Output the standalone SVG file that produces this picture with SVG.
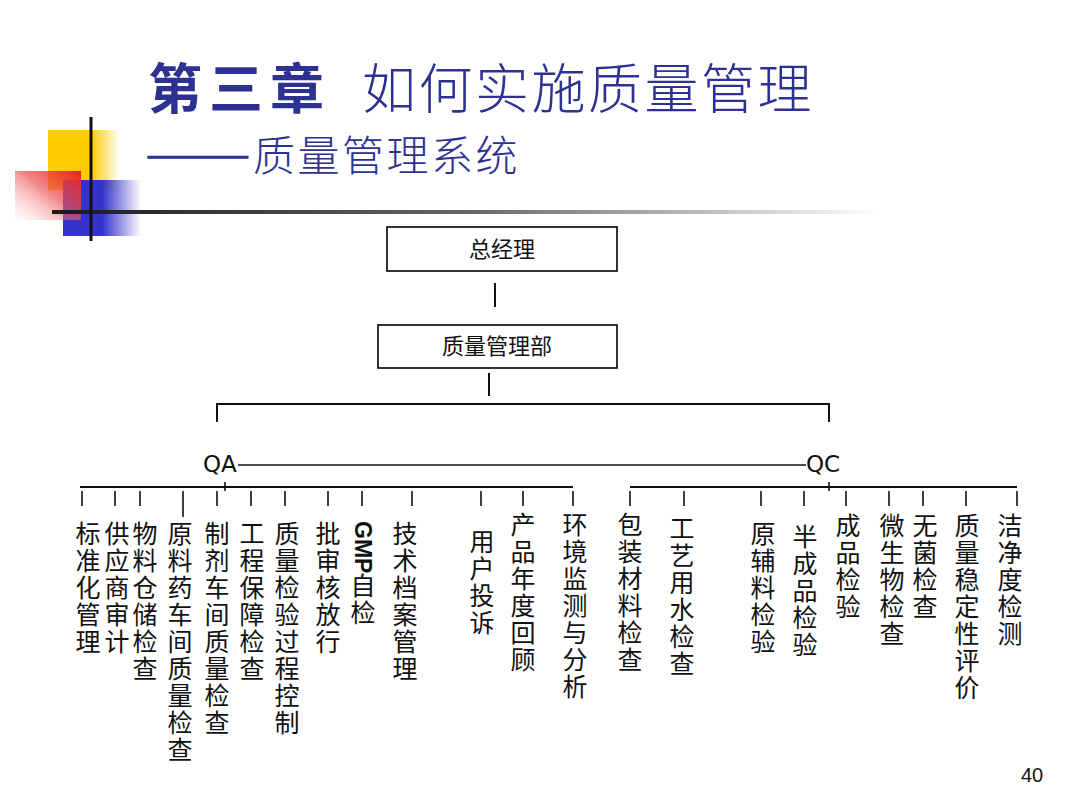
<svg xmlns="http://www.w3.org/2000/svg" width="1080" height="810" viewBox="0 0 1080 810">
<style>
.title{font-family:"Noto Sans CJK SC","Noto Sans",sans-serif;fill:#2D3192}
.box{fill:#fff;stroke:#000;stroke-width:1.6}
.boxt{font-family:"Noto Sans CJK SC",sans-serif;font-size:22px;fill:#111;text-anchor:middle}
.ln{stroke:#111;stroke-width:2;fill:none}
.tk{stroke:#111;stroke-width:1.6;fill:none}
.qt{font-family:"DejaVu Sans","Noto Sans",sans-serif;font-size:23px;fill:#111}
.leaf{font-family:"Noto Sans CJK SC",sans-serif;font-size:25px;fill:#111;writing-mode:vertical-rl;letter-spacing:2px}
.pg{font-family:"Liberation Sans",Arial,sans-serif;font-size:20px;fill:#111}
</style>
<defs>
<linearGradient id="gY" x1="0" y1="0" x2="1" y2="0"><stop offset="0" stop-color="#FFCC00"/><stop offset="0.6" stop-color="#FFCC00"/><stop offset="1" stop-color="#FFCC00" stop-opacity="0"/></linearGradient>
<linearGradient id="gB" x1="0" y1="0" x2="1" y2="0"><stop offset="0" stop-color="#3333CC"/><stop offset="0.5" stop-color="#3333CC"/><stop offset="1" stop-color="#3333CC" stop-opacity="0"/></linearGradient>
<linearGradient id="gR" x1="1" y1="0" x2="0" y2="1"><stop offset="0" stop-color="#E8201C"/><stop offset="0.45" stop-color="#EC5050" stop-opacity="0.7"/><stop offset="1" stop-color="#FFC0C0" stop-opacity="0.05"/></linearGradient>
<linearGradient id="gL" x1="0" y1="0" x2="1" y2="0"><stop offset="0" stop-color="#1a1a1a"/><stop offset="0.5" stop-color="#666"/><stop offset="1" stop-color="#fff"/></linearGradient>
</defs>
<rect width="1080" height="810" fill="#fff"/>
<g id="decor">
<rect x="48" y="130" width="72" height="60" fill="url(#gY)"/>
<rect x="63" y="180" width="78" height="56" fill="url(#gB)"/>
<rect x="15" y="171" width="66" height="49" fill="url(#gR)"/>
<rect x="52" y="210" width="830" height="4" fill="url(#gL)"/>
<rect x="89.5" y="117" width="3" height="124" fill="#111"/>
</g>
<g id="title">
<text class="title" x="148" y="109" font-size="54" font-weight="bold" letter-spacing="7">第三章</text>
<text class="title" x="362" y="109" font-size="54" font-weight="300" letter-spacing="2.5">如何实施质量管理</text>
<text class="title" x="145" y="168" font-size="38" stroke="#2D3192" stroke-width="0.6" textLength="106" lengthAdjust="spacingAndGlyphs">——</text>
<text class="title" x="253" y="171" font-size="42" font-weight="300" letter-spacing="2.5">质量管理系统</text>
</g>
<g id="connectors">
<line class="ln" x1="495" y1="283" x2="495" y2="307"/>
<line class="ln" x1="489" y1="373" x2="489" y2="396"/>
<path class="ln" d="M217 422V404H829V422"/>
<line class="tk" x1="238" y1="465" x2="806" y2="465"/>
<line class="ln" x1="80" y1="487" x2="573" y2="487"/>
<line class="tk" x1="225" y1="482" x2="225" y2="491"/>
<line class="ln" x1="630" y1="487" x2="1017" y2="487"/>
<line class="tk" x1="829" y1="482" x2="829" y2="491"/>
<g class="tk">
<line x1="82" y1="491" x2="82" y2="506"/>
<line x1="115" y1="491" x2="115" y2="506"/>
<line x1="140" y1="491" x2="140" y2="506"/>
<line x1="183" y1="491" x2="183" y2="517"/>
<line x1="217" y1="491" x2="217" y2="506"/>
<line x1="251" y1="491" x2="251" y2="506"/>
<line x1="285" y1="491" x2="285" y2="506"/>
<line x1="328" y1="491" x2="328" y2="506"/>
<line x1="362" y1="491" x2="362" y2="506"/>
<line x1="412" y1="491" x2="412" y2="506"/>
<line x1="481" y1="491" x2="481" y2="506"/>
<line x1="523" y1="491" x2="523" y2="506"/>
<line x1="573" y1="491" x2="573" y2="506"/>
<line x1="630" y1="491" x2="630" y2="506"/>
<line x1="684" y1="491" x2="684" y2="506"/>
<line x1="761" y1="491" x2="761" y2="506"/>
<line x1="804" y1="491" x2="804" y2="506"/>
<line x1="846" y1="491" x2="846" y2="506"/>
<line x1="889" y1="491" x2="889" y2="506"/>
<line x1="923" y1="491" x2="923" y2="506"/>
<line x1="966" y1="491" x2="966" y2="506"/>
<line x1="1017" y1="491" x2="1017" y2="506"/>
</g>
</g>
<g id="n-gm"><rect class="box" x="387" y="227" width="230" height="44"/><text class="boxt" x="502" y="257">总经理</text></g>
<g id="n-qmd"><rect class="box" x="378" y="325" width="239" height="43"/><text class="boxt" x="497" y="354">质量管理部</text></g>
<g id="n-qa"><text class="qt" x="203" y="472">QA</text></g>
<g id="n-qc"><text class="qt" x="806" y="472">QC</text></g>
<g id="leaf-1"><text class="leaf" x="88" y="521">标准化管理</text></g>
<g id="leaf-2"><text class="leaf" x="117" y="521">供应商审计</text></g>
<g id="leaf-3"><text class="leaf" x="145" y="521">物料仓储检查</text></g>
<g id="leaf-4"><text class="leaf" x="180" y="521">原料药车间质量检查</text></g>
<g id="leaf-5"><text class="leaf" x="217" y="521">制剂车间质量检查</text></g>
<g id="leaf-6"><text class="leaf" x="252" y="521">工程保障检查</text></g>
<g id="leaf-7"><text class="leaf" x="287" y="521">质量检验过程控制</text></g>
<g id="leaf-8"><text class="leaf" x="328" y="521">批审核放行</text></g>
<g id="leaf-9"><text class="leaf" x="363" y="521"><tspan font-family="Liberation Sans,Arial,sans-serif" font-weight="bold" font-size="23" letter-spacing="0">GMP</tspan>自检</text></g>
<g id="leaf-10"><text class="leaf" x="405" y="521">技术档案管理</text></g>
<g id="leaf-11"><text class="leaf" x="482" y="529">用户投诉</text></g>
<g id="leaf-12"><text class="leaf" x="523" y="512">产品年度回顾</text></g>
<g id="leaf-13"><text class="leaf" x="575" y="512">环境监测与分析</text></g>
<g id="leaf-14"><text class="leaf" x="630" y="512">包装材料检查</text></g>
<g id="leaf-15"><text class="leaf" x="682" y="516">工艺用水检查</text></g>
<g id="leaf-16"><text class="leaf" x="763" y="521">原辅料检验</text></g>
<g id="leaf-17"><text class="leaf" x="805" y="524">半成品检验</text></g>
<g id="leaf-18"><text class="leaf" x="848" y="513">成品检验</text></g>
<g id="leaf-19"><text class="leaf" x="892" y="513">微生物检查</text></g>
<g id="leaf-20"><text class="leaf" x="925" y="513">无菌检查</text></g>
<g id="leaf-21"><text class="leaf" x="967" y="513">质量稳定性评价</text></g>
<g id="leaf-22"><text class="leaf" x="1010" y="513">洁净度检测</text></g>
<text class="pg" x="1021" y="782">40</text>
</svg>
